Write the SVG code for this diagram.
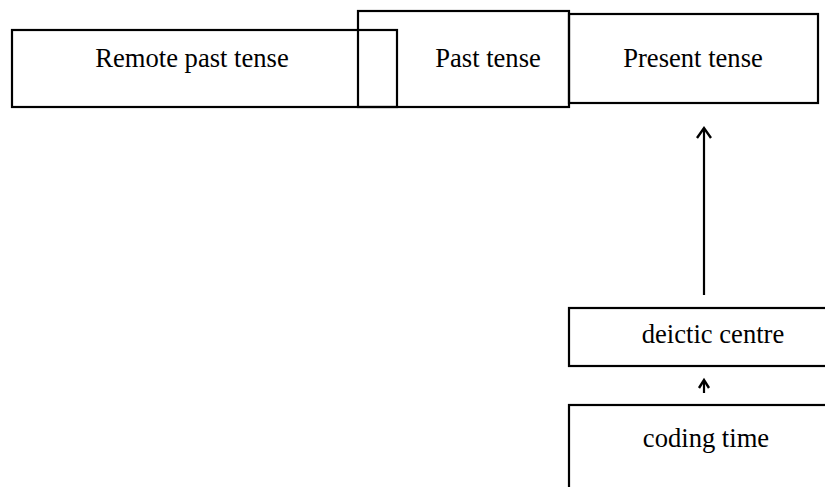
<svg xmlns="http://www.w3.org/2000/svg" width="825" height="487" viewBox="0 0 825 487">
  <style>
    .box { fill: none; stroke: #000; stroke-width: 2.2; }
    .label { font-family: "Liberation Serif", "Times New Roman", serif; font-size: 26.6px; fill: #000; text-anchor: middle; }
    .conn { stroke: #000; stroke-width: 2.2; fill: none; }
    .head { stroke: #000; stroke-width: 2.4; fill: none; stroke-linejoin: miter; }
  </style>
  <rect width="825" height="487" fill="#fff"/>
  <g id="remote-past">
    <rect class="box" x="12" y="30" width="385" height="77"/>
    <text class="label" x="192" y="67">Remote past tense</text>
  </g>
  <g id="past">
    <rect class="box" x="358" y="11" width="211" height="96"/>
    <text class="label" x="488" y="67">Past tense</text>
  </g>
  <g id="present">
    <rect class="box" x="569" y="14" width="249" height="89"/>
    <text class="label" x="693" y="67">Present tense</text>
  </g>
  <g id="deictic-centre">
    <rect class="box" x="569" y="308" width="270" height="58"/>
    <text class="label" x="713" y="343">deictic centre</text>
  </g>
  <g id="coding-time">
    <rect class="box" x="569" y="405" width="270" height="100"/>
    <text class="label" x="706" y="447">coding time</text>
  </g>
  <g id="connectors">
    <line class="conn" x1="704" y1="295" x2="704" y2="128"/>
    <polyline class="head" points="697,138 704,128 711,138"/>
    <line class="conn" x1="704" y1="393" x2="704" y2="381"/>
    <polyline class="head" points="699,388 704,380 709,388"/>
  </g>
</svg>
